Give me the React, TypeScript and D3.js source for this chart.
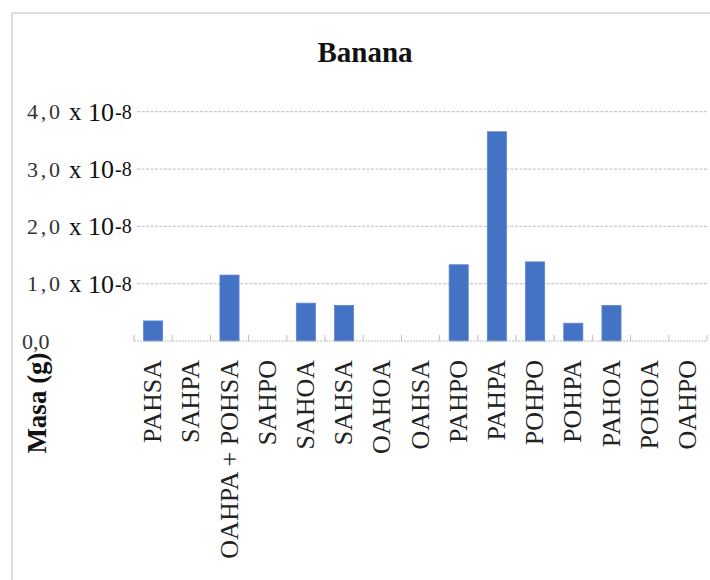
import React from "react";
import * as d3 from "d3";

const categories: string[] = [
  "PAHSA", "SAHPA", "OAHPA + POHSA", "SAHPO", "SAHOA", "SAHSA", "OAHOA", "OAHSA",
  "PAHPO", "PAHPA", "POHPO", "POHPA", "PAHOA", "POHOA", "OAHPO",
];
// Masa (g), in units of 10^-8
const values: number[] = [0.35, 0, 1.15, 0, 0.66, 0.62, 0, 0, 1.33, 3.65, 1.38, 0.31, 0.62, 0, 0];
const yTicks: number[] = [0, 1, 2, 3, 4];
const yTickPrefix: string[] = ["0,0", "1,0", "2,0", "3,0", "4,0"];
const title = "Banana";
const yTitle = "Masa (g)";

const W = 710;
const H = 580;
const left = 134;
const right = 707;
const top = 111.7;
const bottom = 341;
const serif = "'Liberation Serif', 'Times New Roman', serif";

export default function App() {
  const x = d3.scaleBand<string>().domain(categories).range([left, right]).paddingInner(0.5).paddingOuter(0.25);
  const step = x.step();
  const y = d3.scaleLinear().domain([0, 4]).range([bottom, top]);
  const tickXs = d3.range(categories.length + 1).map((i) => left + i * step);
  const bandCenter = (c: string) => (x(c) as number) + x.bandwidth() / 2;

  return (
    <svg
      width={W}
      height={H}
      style={{ position: "absolute", left: 0, top: 0, background: "#fff" }}
      fontFamily={serif}
    >
      <rect x={0} y={0} width={W} height={H} fill="#fff" />
      <rect x={12} y={13} width={W} height={H} fill="#fff" stroke="#d4d4d4" strokeWidth={1.5} />
      <text x={365} y={62} textAnchor="middle" fontSize={29} fontWeight="bold" fill="#111">
        {title}
      </text>

      {/* grid lines */}
      {yTicks.filter((t) => t > 0).map((t) => (
        <line key={t} x1={137} x2={right} y1={y(t)} y2={y(t)} stroke="#c8c8c8" strokeWidth={1.2} strokeDasharray="3,1.5" />
      ))}

      {/* y labels */}
      {yTicks.map((t, i) =>
        t === 0 ? (
          <text key={t} x={22} y={y(t)} dy="0.35em" fontSize={22} fill="#333">
            {yTickPrefix[i]}
          </text>
        ) : (
          <g key={t}>
            <text x={27} y={y(t)} dy="0.35em" fontSize={22} fill="#333" textLength={33} lengthAdjust="spacing">
              {yTickPrefix[i]}
            </text>
            <text x={69} y={y(t)} dy="0.35em" fontSize={25} fill="#111">
              x
            </text>
            <text x={88} y={y(t)} dy="0.35em" fontSize={26} fill="#111">
              10
            </text>
            <text x={115} y={y(t)} dy="0.35em" fontSize={20} fill="#111">
              -8
            </text>
          </g>
        )
      )}

      {/* bars */}
      {categories.map((c, i) =>
        values[i] > 0 ? (
          <rect
            key={c}
            x={x(c)}
            y={y(values[i])}
            width={x.bandwidth()}
            height={bottom - y(values[i])}
            fill="#4472c4"
            stroke="#5b85d0"
            strokeWidth={0.8}
          />
        ) : null
      )}

      {/* x axis */}
      <line x1={left} x2={right} y1={bottom} y2={bottom} stroke="#bdbdbd" strokeWidth={1.2} strokeDasharray="2,1" />
      {tickXs.map((tx, i) => (
        <line key={i} x1={tx} x2={tx} y1={bottom} y2={bottom - 6} stroke="#bdbdbd" strokeWidth={1} />
      ))}

      {/* x labels */}
      {categories.map((c) => (
        <text
          key={c}
          transform={`translate(${bandCenter(c) + 8},${360}) rotate(-90)`}
          textAnchor="end"
          fontSize={26}
          fill="#222"
        >
          {c}
        </text>
      ))}

      {/* y title */}
      <text transform={`translate(46,${403}) rotate(-90)`} textAnchor="middle" fontSize={27} fontWeight="bold" fill="#111">
        {yTitle}
      </text>
    </svg>
  );
}
